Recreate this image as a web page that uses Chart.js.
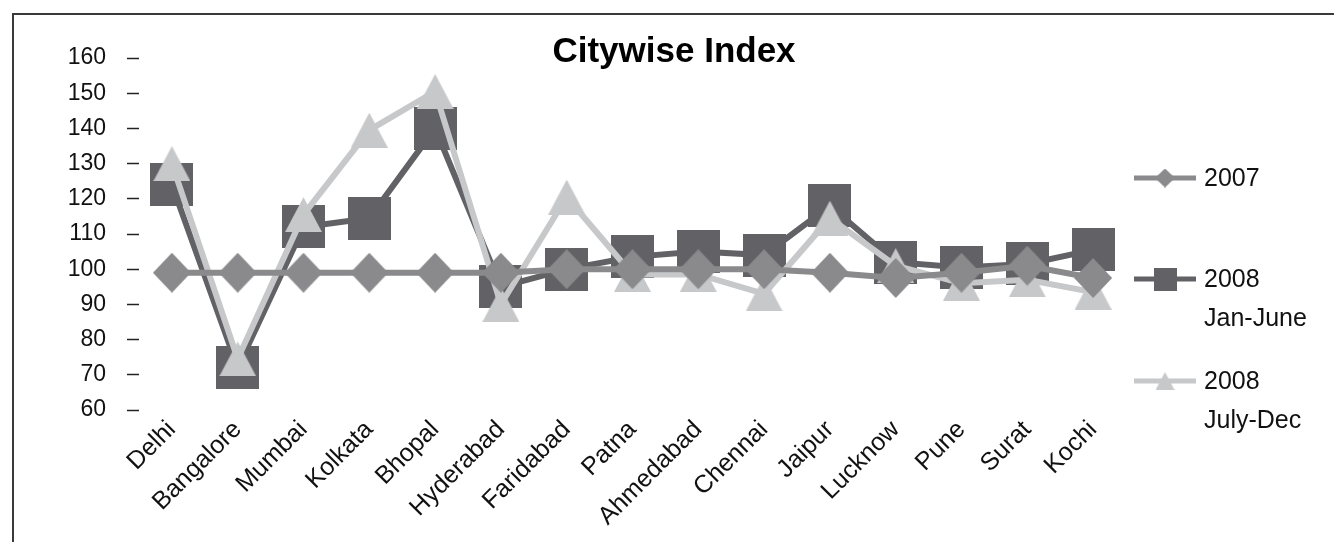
<!DOCTYPE html>
<html>
<head>
<meta charset="utf-8">
<title>Citywise Index</title>
<script src="https://cdn.jsdelivr.net/npm/chart.js@4.4.0/dist/chart.umd.min.js"></script>
<style>
  html, body { margin: 0; padding: 0; background: #fff; }
  #wrap { width: 1334px; height: 542px; }
</style>
</head>
<body>
<div id="wrap"><canvas id="cityChart" width="1334" height="542"></canvas></div>
<script>
const cities = ['Delhi', 'Bangalore', 'Mumbai', 'Kolkata', 'Bhopal', 'Hyderabad', 'Faridabad',
  'Patna', 'Ahmedabad', 'Chennai', 'Jaipur', 'Lucknow', 'Pune', 'Surat', 'Kochi'];

const index2007    = [99, 99, 99, 99, 99, 99, 100, 100, 100, 100, 99, 97.5, 99, 101, 97.5];
const indexJanJune = [124, 72, 112, 114.5, 140, 95, 100, 103.5, 105, 104, 118, 102, 100.5, 101.5, 105.5];
const indexJulyDec = [130, 74.5, 115.5, 139.5, 150.5, 90, 120.5, 98.5, 98.5, 93, 114.5, 101, 96, 97, 93.5];

const yMin = 60, yMax = 160, yStep = 10;

const seriesNames = [['2007'], ['2008', 'Jan-June'], ['2008', 'July-Dec']];
const seriesColors = ['#8a8a8c', '#626266', '#c7c8ca'];

const FONT = '"Liberation Sans", Arial, Helvetica, sans-serif';
Chart.defaults.font.family = FONT;
Chart.defaults.color = '#111';

// solid marker shapes drawn onto small canvases, centred on each point
function makeMarker(shape, w, h, color) {
  const c = document.createElement('canvas');
  c.width = w; c.height = h;
  const g = c.getContext('2d');
  g.fillStyle = color;
  g.beginPath();
  if (shape === 'diamond') {
    g.moveTo(w / 2, 0); g.lineTo(w, h / 2); g.lineTo(w / 2, h); g.lineTo(0, h / 2);
  } else if (shape === 'triangle') {
    g.moveTo(w / 2, 0); g.lineTo(w, h); g.lineTo(0, h);
  } else {
    g.rect(0, 0, w, h);
  }
  g.closePath();
  g.fill();
  return c;
}

const bigMarkers = [
  makeMarker('diamond', 38, 40, seriesColors[0]),
  makeMarker('square', 43, 43, seriesColors[1]),
  makeMarker('triangle', 37, 35, seriesColors[2])
];
const smallMarkers = [
  makeMarker('diamond', 20, 19, seriesColors[0]),
  makeMarker('square', 23, 23, seriesColors[1]),
  makeMarker('triangle', 19, 18, seriesColors[2])
];

// outer frame (only top and left edges show) plus the title
const framePlugin = {
  id: 'frame',
  beforeDraw(chart) {
    const ctx = chart.ctx;
    ctx.save();
    ctx.fillStyle = '#fff';
    ctx.fillRect(0, 0, chart.width, chart.height);
    ctx.strokeStyle = '#3a3a3a';
    ctx.lineWidth = 2;
    ctx.beginPath();
    ctx.moveTo(13, chart.height);
    ctx.lineTo(13, 14);
    ctx.lineTo(chart.width, 14);
    ctx.stroke();
    ctx.restore();
  },
  afterDraw(chart) {
    const ctx = chart.ctx;
    ctx.save();
    ctx.fillStyle = '#000';
    ctx.font = 'bold 35px ' + FONT;
    ctx.textAlign = 'center';
    ctx.textBaseline = 'middle';
    ctx.fillText('Citywise Index', 674, 52);
    ctx.restore();
  }
};

// legend on the right: line + marker, then a one or two line name
const legendRows = [178, 279, 381];
const sideLegend = {
  id: 'sideLegend',
  afterDraw(chart) {
    const ctx = chart.ctx;
    ctx.save();
    chart.data.datasets.forEach((ds, i) => {
      const y = legendRows[i];
      ctx.strokeStyle = seriesColors[i];
      ctx.lineWidth = 5;
      ctx.beginPath();
      ctx.moveTo(1134, y);
      ctx.lineTo(1196, y);
      ctx.stroke();
      const m = smallMarkers[i];
      ctx.drawImage(m, 1165 - m.width / 2, y - m.height / 2);
      ctx.fillStyle = '#111';
      ctx.font = '25px ' + FONT;
      ctx.textAlign = 'left';
      ctx.textBaseline = 'middle';
      seriesNames[i].forEach((line, k) => ctx.fillText(line, 1204, y + 1 + k * 39));
    });
    ctx.restore();
  }
};

const seriesData = [index2007, indexJanJune, indexJulyDec];
const drawOrder = [0, 2, 1];   // diamonds on top, squares at the back

new Chart(document.getElementById('cityChart'), {
  type: 'line',
  data: {
    labels: cities,
    datasets: seriesData.map((values, i) => ({
      label: seriesNames[i].join(' '),
      data: values,
      borderColor: seriesColors[i],
      backgroundColor: seriesColors[i],
      borderWidth: 6,
      pointStyle: bigMarkers[i],
      pointRadius: 20,
      pointHoverRadius: 20,
      tension: 0,
      fill: false,
      order: drawOrder[i]
    }))
  },
  options: {
    responsive: false,
    animation: false,
    layout: { padding: { top: 58, right: 208, bottom: 0, left: 0 } },
    plugins: {
      legend: { display: false },
      title: { display: false },
      tooltip: { enabled: false }
    },
    scales: {
      x: {
        offset: true,
        grid: { display: false },
        border: { display: false },
        ticks: {
          autoSkip: false,
          minRotation: 45,
          maxRotation: 45,
          padding: -3,
          color: '#111',
          font: { size: 25 }
        },
        afterFit(scale) { scale.height = 132; }
      },
      y: {
        min: yMin,
        max: yMax,
        grid: {
          drawOnChartArea: false,
          drawTicks: true,
          tickLength: 12,
          tickWidth: 1.5,
          tickColor: '#222'
        },
        border: { display: false },
        ticks: {
          stepSize: yStep,
          padding: 21,
          color: '#111',
          font: { size: 23 }
        },
        afterFit(scale) { scale.width = 139; }
      }
    }
  },
  plugins: [framePlugin, sideLegend]
});
</script>
</body>
</html>
